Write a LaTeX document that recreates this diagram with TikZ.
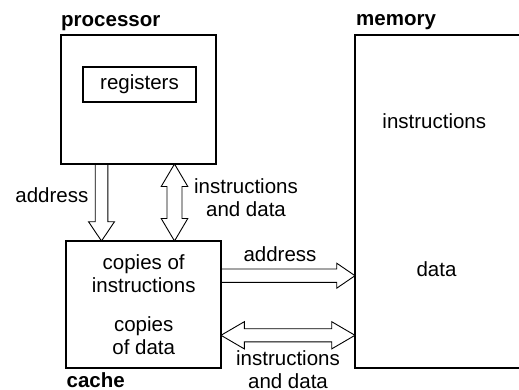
\documentclass[tikz,border=0pt]{standalone}
\usepackage{fontspec}
\setmainfont{Liberation Sans}
\usetikzlibrary{calc}
\tikzset{
  box/.style={draw, line width=2pt, outer sep=0pt, inner sep=0pt},
  lbl/.style={font=\fontsize{20.5}{23}\selectfont, inner sep=0pt, align=center},
  title/.style={font=\fontsize{20.5}{23}\selectfont\bfseries, inner sep=0pt},
  arrowline/.style={draw, line width=0.9pt, line join=miter},
}
% single hollow arrow: #1 tail, #2 tip, #3 half shaft, #4 half head, #5 head length
\newcommand\onearrow[5]{%
  \coordinate (hb) at ($(#2)!#5!(#1)$);
  \draw[arrowline] ($(#1)!#3!90:(#2)$) -- ($(hb)!#3!90:(#2)$) -- ($(hb)!#4!90:(#2)$)
    -- (#2) -- ($(hb)!#4!-90:(#2)$) -- ($(hb)!#3!-90:(#2)$) -- ($(#1)!#3!-90:(#2)$);
}
% double hollow arrow
\newcommand\twoarrow[5]{%
  \coordinate (hba) at ($(#1)!#5!(#2)$);
  \coordinate (hbb) at ($(#2)!#5!(#1)$);
  \draw[arrowline] (#1) -- ($(hba)!#4!90:(#2)$) -- ($(hba)!#3!90:(#2)$) -- ($(hbb)!#3!90:(#2)$)
    -- ($(hbb)!#4!90:(#2)$) -- (#2) -- ($(hbb)!#4!-90:(#2)$) -- ($(hbb)!#3!-90:(#2)$)
    -- ($(hba)!#3!-90:(#2)$) -- ($(hba)!#4!-90:(#2)$) -- cycle;
}
\begin{document}
\begin{tikzpicture}[x=1pt, y=-1pt]
  \clip (0,0) rectangle (519,390);
  % boxes
  \node[box, minimum width=155pt, minimum height=129pt] (proc) at (138.5,99.5) {};
  \node[box, lbl, minimum width=113pt, minimum height=35pt] (regs) at (139.5,84.5) {registers};
  \node[box, minimum width=155pt, minimum height=127pt] (cache) at (143.5,304.5) {};
  \node[box, minimum width=190pt, minimum height=333pt] (mem) at (450,201.5) {};
  % titles
  \node[title, anchor=base west] (tproc) at (61,26.5) {processor};
  \node[title, anchor=base west] (tmem) at (356,26) {memory};
  \node[title, anchor=base west] (tcache) at (66.5,387) {cache};
  % texts inside (base anchor = baseline of last line)
  \node[lbl, anchor=base] (ci) at (143.7,292.7) {copies of\\instructions};
  \node[lbl, anchor=base] (cd) at (143.7,354) {copies\\of data};
  \node[lbl, anchor=base] (mi) at (434.3,128.3) {instructions};
  \node[lbl, anchor=base] (md) at (436.5,276) {data};
  % arrow end points
  \coordinate (a1s) at ($(proc.south west)+(40.5,0)$);
  \coordinate (a1e) at (a1s |- cache.north);
  \coordinate (a2s) at ($(proc.south west)+(113.5,0)$);
  \coordinate (a2e) at (a2s |- cache.north);
  \coordinate (a3s) at ($(cache.north east)+(0,34.7)$);
  \coordinate (a3e) at (a3s -| mem.west);
  \coordinate (a4s) at ($(cache.north east)+(0,94.3)$);
  \coordinate (a4e) at (a4s -| mem.west);
  % arrows
  \onearrow{a1s}{a1e}{6.3pt}{13pt}{19.3pt}
  \twoarrow{a2s}{a2e}{7.5pt}{13.3pt}{22.5pt}
  \onearrow{a3s}{a3e}{6.7pt}{12.5pt}{18.3pt}
  \twoarrow{a4s}{a4e}{6.6pt}{13.6pt}{23.3pt}
  % arrow labels
  \node[lbl, anchor=base east] (la1) at (88.5,202.3) {address};
  \node[lbl, anchor=base] (la2) at (246,216) {instructions\\and data};
  \node[lbl, anchor=base] (la3) at (280,261.5) {address};
  \node[lbl, anchor=base] (la4) at (288,388.5) {instructions\\and data};
\end{tikzpicture}
\end{document}
